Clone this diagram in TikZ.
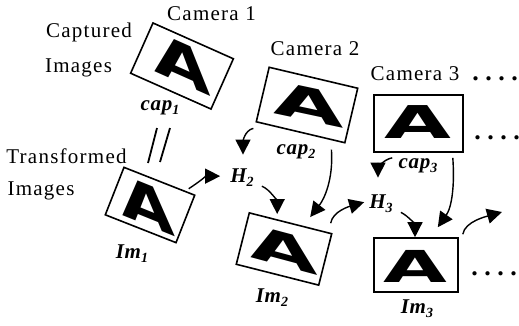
\documentclass[tikz,border=0pt]{standalone}
\usepackage{fontspec}
\setmainfont{Liberation Serif}
\newfontfamily\capfont{Liberation Serif}[LetterSpace=6]
\newfontfamily\labfont{Liberation Serif}[LetterSpace=3]
\newfontfamily\Afont{DejaVu Sans}
\usetikzlibrary{arrows.meta}
\newcommand{\lbl}[2]{#1\raisebox{-4pt}{\fontsize{14}{14}\selectfont #2}}
\newcommand{\dotrow}{.\hspace{6.5pt}.\hspace{6.5pt}.\hspace{6.5pt}.}
\tikzset{
  txt/.style={font=\capfont\fontsize{21}{21}\selectfont, inner sep=0pt, anchor=base},
  lab/.style={font=\labfont\bfseries\itshape\fontsize{21}{21}\selectfont, inner sep=0pt, anchor=base},
  frame/.style={draw, line width=1.6pt, inner sep=0pt},
  glyph/.style={font=\Afont\bfseries\fontsize{40}{40}\selectfont, inner sep=0pt},
  arr/.style={line width=1.4pt, -{Triangle[length=15pt,width=15pt]}},
  dotsrow/.style={font=\bfseries\fontsize{26}{26}\selectfont, inner sep=0pt, anchor=base},
  eqline/.style={line width=1.8pt}
}
\begin{document}
\begin{tikzpicture}[x=1pt,y=-1pt]
\useasboundingbox (0,0) rectangle (519,325);
% captions
\node[txt] (cam1) at (211.5,20) {Camera 1};
\node[txt] (cam2) at (315,55) {Camera 2};
\node[txt] (cam3) at (415,80) {Camera 3};
\node[txt] (captured) at (89,37) {Captured};
\node[txt] (images1) at (78.5,72) {Images};
\node[txt] (transformed) at (66.5,163) {Transformed};
\node[txt] (images2) at (41,195) {Images};
% frames
\node[frame, minimum width=88pt, minimum height=55pt, rotate=-24] (cap1) at (182,66) {};
\node[frame, minimum width=76pt, minimum height=51pt, rotate=-21.5] (im1) at (150,205) {};
\node[frame, minimum width=91pt, minimum height=56pt, rotate=-13.3] (cap2) at (307,105) {};
\node[frame, minimum width=85pt, minimum height=53pt, rotate=-14.2] (im2) at (284,249) {};
\node[frame, minimum width=89pt, minimum height=57pt] (cap3) at (418.5,123.5) {};
\node[frame, minimum width=84pt, minimum height=54pt] (im3) at (416,265) {};
% glyphs
\node[glyph, rotate=-24, xslant=-0.45, xscale=2.0, yscale=1.28] (gcap1) at (183,64) {A};
\node[glyph, rotate=-22, xslant=-0.5, xscale=1.85, yscale=1.30] (gim1) at (147,205) {A};
\node[glyph, rotate=-12, xslant=-0.2, xscale=2.32, yscale=1.12] (gcap2) at (309,104) {A};
\node[glyph, rotate=-15, xslant=-0.3, xscale=2.26, yscale=1.12] (gim2) at (284,250) {A};
\node[glyph, xscale=2.16, yscale=1.13] (gcap3) at (418,122) {A};
\node[glyph, xscale=2.06, yscale=1.10] (gim3) at (415,266) {A};
% labels
\node[lab] (lcap1) at (160,110) {\lbl{cap}{1}};
\node[lab] (lcap2) at (296,154) {\lbl{cap}{2}};
\node[lab] (lcap3) at (418,168) {\lbl{cap}{3}};
\node[lab] (H2) at (242,182) {\lbl{H}{2}};
\node[lab] (H3) at (381,208) {\lbl{H}{3}};
\node[lab] (lim1) at (132,258) {\lbl{Im}{1}};
\node[lab] (lim2) at (272,302) {\lbl{Im}{2}};
\node[lab] (lim3) at (417,313) {\lbl{Im}{3}};
% dots
\node[dotsrow] (d1) at (495,80) {\dotrow};
\node[dotsrow] (d2) at (497,139) {\dotrow};
\node[dotsrow] (d3) at (494,275) {\dotrow};
% equality mark
\draw[eqline] (157,128) -- (148,163);
\draw[eqline] (170,128) -- (160,162);
% arrows
\coordinate (out3) at (502,212);
\draw[arr] ([shift={(-2,6)}]cap2.south west) .. controls +(-9,2) and +(0,-12) .. ([shift={(1,-13.5)}]H2.north);
\draw[arr] ([shift={(-7,-6)}]im1.north east) .. controls +(12,-8) and +(-14,0) .. ([shift={(-10,-1)}]H2.west);
\draw[arr] ([shift={(8,0)}]H2.south east) .. controls +(8,3) and +(0,-12) .. ([shift={(-13.5,-8.5)}]im2.north);
\draw[arr] ([shift={(-14,6)}]cap2.south east) .. controls +(2,30) and +(14,-18) .. ([shift={(19.5,-5.5)}]im2.north);
\draw[arr] ([shift={(-2,-10)}]im2.north east) .. controls +(2,-12) and +(-14,4) .. ([shift={(-5,-1)}]H3.west);
\draw[arr] ([shift={(8,0)}]H3.south east) .. controls +(8,4) and +(0,-12) .. ([shift={(-1,0)}]im3.north);
\draw[arr] ([shift={(-11,5)}]cap3.south east) .. controls +(2,28) and +(14,-20) .. ([shift={(-21,-10)}]im3.north east);
\draw[arr] ([shift={(4,-3)}]im3.north east) .. controls +(2,-13) and +(-14,4) .. (out3);
\draw[arr] ([shift={(19,5)}]cap3.south west) .. controls +(-10,2) and +(0,-8) .. ([shift={(-3,-16.5)}]H3.north);
\end{tikzpicture}
\end{document}
